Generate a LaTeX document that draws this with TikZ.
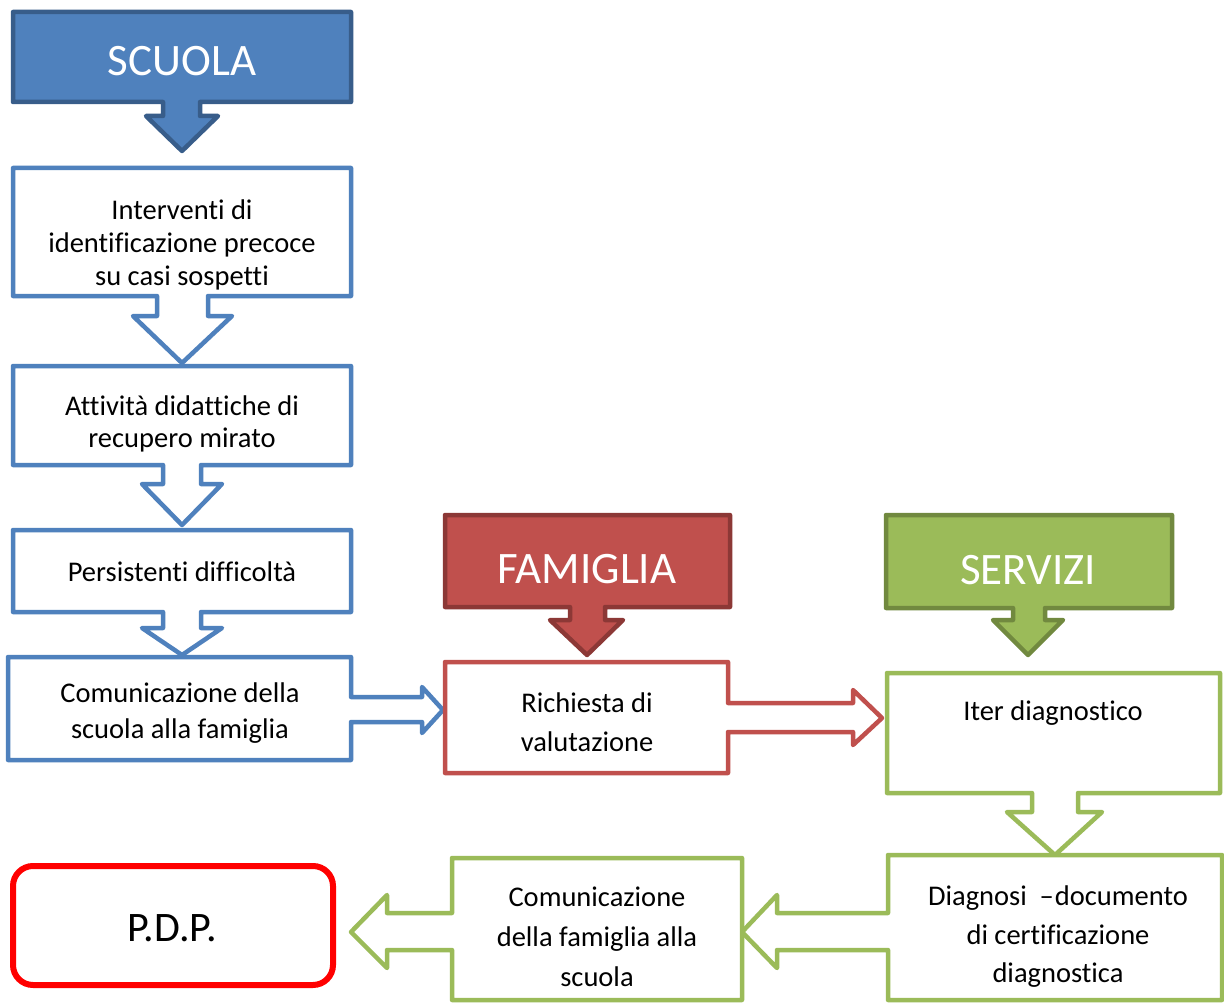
\documentclass[tikz,border=0pt]{standalone}
\usepackage{fontspec}
\setmainfont{Carlito}[Ligatures={NoCommon}]
\definecolor{bluef}{HTML}{4F81BD}
\definecolor{blued}{HTML}{385D8A}
\definecolor{redf}{HTML}{C0504D}
\definecolor{redd}{HTML}{8C3836}
\definecolor{greenf}{HTML}{9BBB59}
\definecolor{greend}{HTML}{71893F}
\definecolor{pdpred}{HTML}{FF0000}
\begin{document}
\begin{tikzpicture}[x=1pt,y=-1pt,
  callout/.style={line width=4.5pt, line join=round},
  outline/.style={line width=4.5pt, line join=round, fill=white},
  body/.style={align=center, text=black, inner sep=0pt},
  headtxt/.style={font=\fontsize{45}{54}\selectfont, text=white, inner sep=0pt}]
\useasboundingbox (0,0) rectangle (1224,1003);
\fill[white] (0,0) rectangle (1224,1003);

% SCUOLA callout
\filldraw[callout, fill=bluef, draw=blued] (13,12) -- (351,12) -- (351,102) -- (200,102) -- (200,116) -- (218,116) -- (182,151) -- (146,116) -- (163,116) -- (163,102) -- (13,102) -- cycle;
\node[headtxt] (scuola) at (182,61) {SCUOLA};

% blue boxes
\draw[outline, draw=bluef] (13,168) -- (351,168) -- (351,296) -- (208,296) -- (208,316) -- (232,316) -- (182,363) -- (133,316) -- (157,316) -- (157,296) -- (13,296) -- cycle;
\draw[outline, draw=bluef] (13,366) -- (351,366) -- (351,465) -- (201,465) -- (201,484) -- (222,484) -- (182,525) -- (142,484) -- (163,484) -- (163,465) -- (13,465) -- cycle;
\draw[outline, draw=bluef] (13,530) -- (351,530) -- (351,612) -- (201,612) -- (201,628) -- (222,628) -- (182,655) -- (142,628) -- (163,628) -- (163,612) -- (13,612) -- cycle;
\draw[outline, draw=bluef] (8,657) -- (351,657) -- (351,697) -- (422,697) -- (422,687) -- (443,710) -- (422,733) -- (422,722) -- (351,722) -- (351,760) -- (8,760) -- cycle;

\node[body, font=\fontsize{28.5}{33}\selectfont] (b1) at (182,245) {Interventi di\\identificazione precoce\\su casi sospetti};
\node[body, font=\fontsize{28.5}{32}\selectfont] (b2) at (182,424) {Attività didattiche di\\recupero mirato};
\node[body, font=\fontsize{28.5}{33}\selectfont] (b3) at (182,572) {Persistenti difficoltà};
\node[body, font=\fontsize{28.5}{36}\selectfont] (b4) at (180,713) {Comunicazione della\\scuola alla famiglia};

% FAMIGLIA callout
\filldraw[callout, fill=redf, draw=redd] (445,515) -- (730,515) -- (730,607) -- (605,607) -- (605,620) -- (623,620) -- (587,655) -- (550,620) -- (570,620) -- (570,607) -- (445,607) -- cycle;
\node[headtxt] (famiglia) at (587,569) {FAMIGLIA};

\draw[outline, draw=redf] (445,662) -- (728,662) -- (728,703) -- (853,703) -- (853,690) -- (882,718) -- (853,745) -- (853,732) -- (728,732) -- (728,773) -- (445,773) -- cycle;
\node[body, font=\fontsize{28.5}{39}\selectfont] (b5) at (587,722) {Richiesta di\\valutazione};

% SERVIZI callout
\filldraw[callout, fill=greenf, draw=greend] (886,515) -- (1172,515) -- (1172,608) -- (1045,608) -- (1045,620) -- (1063,620) -- (1028,655) -- (993,620) -- (1013,620) -- (1013,608) -- (886,608) -- cycle;
\node[headtxt] (servizi) at (1028,570) {SERVIZI};

\draw[outline, draw=greenf] (887,673) -- (1220,673) -- (1220,793) -- (1078,793) -- (1078,812) -- (1102,812) -- (1055,855) -- (1007,812) -- (1032,812) -- (1032,793) -- (887,793) -- cycle;
\node[body, font=\fontsize{28.5}{33}\selectfont] (b6) at (1053,713) {Iter diagnostico};

\draw[outline, draw=greenf] (888,855) -- (1222,855) -- (1222,1000) -- (888,1000) -- (888,950) -- (777,950) -- (777,968) -- (742,932) -- (777,895) -- (777,913) -- (888,913) -- cycle;
\node[body, font=\fontsize{28.5}{38.5}\selectfont] (b7) at (1058,937) {Diagnosi\ \ –\kern1pt documento\\di certificazione\\diagnostica};

\draw[outline, draw=greenf] (452,858) -- (742,858) -- (742,1000) -- (452,1000) -- (452,950) -- (387,950) -- (387,968) -- (351,932) -- (387,895) -- (387,913) -- (452,913) -- cycle;
\node[body, font=\fontsize{28.5}{40}\selectfont] (b8) at (597,937) {Comunicazione\\della famiglia alla\\scuola};

% PDP
\draw[line width=6pt, draw=pdpred, rounded corners=20pt] (13,866) rectangle (333,985);
\node[body, font=\fontsize{42}{50}\selectfont] (pdp) at (172,928) {P.D.P.};
\end{tikzpicture}
\end{document}
